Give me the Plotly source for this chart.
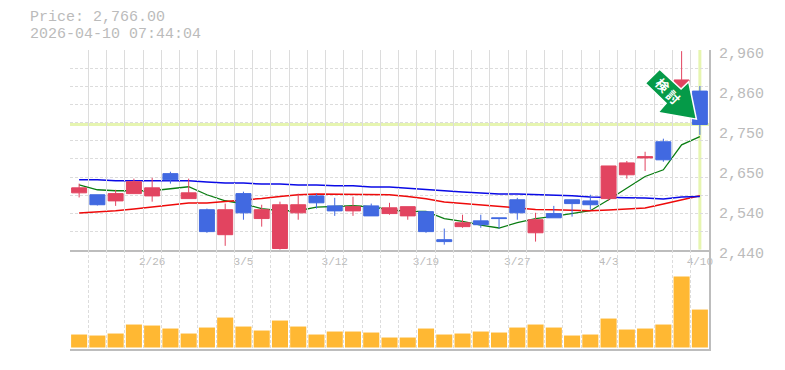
import plotly.graph_objects as go

dates = ["2/19","2/20","2/24","2/25","2/26","2/27","3/2","3/3","3/4","3/5","3/6","3/9","3/10","3/11","3/12","3/13","3/16","3/17","3/18","3/19","3/23","3/24","3/25","3/26","3/27","3/30","3/31","4/1","4/2","4/3","4/6","4/7","4/8","4/9","4/10"]
opens  = [2588,2583,2567,2586,2580,2638,2573,2544,2479,2586,2521,2443,2536,2580,2554,2541,2554,2534,2528,2539,2466,2500,2515,2523,2570,2484,2534,2570,2567,2573,2635,2679,2721,2799,2853]
highs  = [2612,2583,2596,2625,2627,2643,2625,2547,2560,2591,2557,2565,2586,2586,2575,2578,2560,2562,2552,2539,2495,2531,2531,2523,2575,2536,2554,2570,2583,2658,2671,2695,2729,2957,2866]
lows   = [2576,2555,2554,2586,2565,2612,2573,2484,2450,2518,2500,2440,2518,2547,2528,2528,2528,2531,2518,2484,2453,2497,2497,2495,2518,2461,2523,2526,2544,2567,2625,2645,2669,2788,2739]
closes = [2601,2557,2586,2617,2601,2622,2588,2487,2544,2536,2544,2557,2557,2562,2541,2552,2528,2549,2552,2487,2461,2510,2505,2521,2536,2518,2523,2560,2557,2658,2666,2682,2674,2882,2766]
ma_short = [2609,2596,2593.4,2593.4,2593.4,2598.6,2603.8,2583,2567.4,2559.6,2546.6,2541.4,2541.4,2551,2553.6,2554.4,2551.8,2544,2539.6,2539.6,2520.6,2513.6,2504.2,2496.4,2510.2,2520.6,2526.6,2533.6,2541.4,2570,2601.2,2630.6,2648,2713,2734.6]
ma_mid = [2535.4,2538,2541.4,2545.8,2551,2557,2561.4,2561.4,2565.6,2568.2,2573.4,2578.6,2583,2584.8,2584.8,2584.8,2583,2583,2578.6,2572.6,2564,2560.4,2556.2,2551.8,2548.4,2544.8,2544,2542.2,2541.4,2543.2,2545.8,2548.4,2558.8,2570,2580.4]
ma_long = [2622,2622,2619.4,2619.4,2619.4,2619.4,2619.4,2616,2613.4,2613.4,2610.8,2610.8,2608.5,2608.5,2606.4,2606.4,2603,2603,2600.4,2597.8,2593.4,2590,2587.4,2584.8,2584.8,2583,2583,2580.4,2577,2575.2,2575.2,2574.4,2571.8,2577,2578.6]
volumes = [13000,12000,14000,23000,22000,19000,14000,20000,30000,21000,17000,27000,21000,13000,16000,16000,15000,10000,10000,19000,13000,14000,16000,15000,20000,23000,20000,12000,13000,29000,18000,19000,23000,71000,38000]
last_price = 2766
timestamp = "2026-04-10 07:44:04"
tick_idx = [4,9,14,19,24,29,34]
price_ticks = [2960,2856,2752,2648,2544,2440]
price_tick_text = ["2,960","2,860","2,750","2,650","2,540","2,440"]

W,H = 785,370
L,R,T,B = 70,708.6,50,349.5
idx = list(range(len(dates)))
GRID = "#dcdcdc"; AX = "#bdbdbd"; TXT = "#bbbbbb"; MONO = "Liberation Mono"
pw, ph = R-L, B-T
def fx(p): return (p-L)/pw
def fy(p): return (B-p)/ph

fig = go.Figure()
fig.add_trace(go.Scatter(x=idx,y=ma_short,mode="lines",line=dict(color="#0a7d12",width=1.3),xaxis="x",yaxis="y",showlegend=False,hoverinfo="skip"))
fig.add_trace(go.Scatter(x=idx,y=ma_mid,mode="lines",line=dict(color="#ee0a0a",width=1.5),xaxis="x",yaxis="y",showlegend=False,hoverinfo="skip"))
fig.add_trace(go.Scatter(x=idx,y=ma_long,mode="lines",line=dict(color="#0a0ae6",width=1.5),xaxis="x",yaxis="y",showlegend=False,hoverinfo="skip"))
fig.add_trace(go.Candlestick(x=idx,open=opens,high=highs,low=lows,close=closes,xaxis="x",yaxis="y4",whiskerwidth=0,
    increasing=dict(line=dict(color="#e24460",width=1),fillcolor="#e24460"),
    decreasing=dict(line=dict(color="#4169e1",width=1),fillcolor="#4169e1"),showlegend=False))
fig.add_trace(go.Bar(x=idx,y=volumes,xaxis="x2",yaxis="y2",marker=dict(color="#ffb833",line=dict(width=0)),showlegend=False))
# axis carrying the price labels, shifted 3px below the price scale
fig.add_trace(go.Scatter(x=[0],y=[last_price],mode="markers",marker=dict(opacity=0),xaxis="x",yaxis="y3",showlegend=False,hoverinfo="skip"))

grid_x = [i-0.5 for i in idx]
grid_y = [2440+i*520/11 for i in range(12)]
xcommon = dict(range=[-0.5,len(dates)-0.5],showgrid=False,zeroline=False,ticks="",showline=True,linecolor=AX,linewidth=2,
    minor=dict(tickmode="array",tickvals=grid_x,showgrid=True,gridcolor=GRID,griddash="3px,2px",gridwidth=1,ticks=""))
fig.update_layout(
    width=W,height=H,autosize=False,paper_bgcolor="white",plot_bgcolor="rgba(0,0,0,0)",
    margin=dict(l=L,r=W-R,t=T,b=H-B),bargap=0.12,boxgap=0.18,boxgroupgap=0,
    xaxis=dict(xcommon,domain=[0,1],anchor="y",tickmode="array",tickvals=tick_idx,ticktext=[dates[i] for i in tick_idx],
        tickfont=dict(family=MONO,size=11,color=TXT),rangeslider=dict(visible=False),ticklabelstandoff=0),
    xaxis2=dict(xcommon,domain=[0,1],anchor="y2",showticklabels=False),
    yaxis=dict(domain=[fy(250),1],range=[2440,2960],side="right",anchor="x",tickmode="array",tickvals=grid_y,showticklabels=False,
        showgrid=True,gridcolor=GRID,griddash="3px,2px",gridwidth=1,zeroline=False,showline=True,linecolor=AX,linewidth=2,ticks=""),
    yaxis4=dict(overlaying="y",range=[2440,2960],side="right",showticklabels=False,showgrid=False,zeroline=False,ticks=""),
    yaxis2=dict(domain=[0,fy(250)],range=[-1500,98000],side="right",anchor="x2",showticklabels=False,showgrid=False,zeroline=False,
        showline=True,linecolor=AX,linewidth=2,ticks=""),
    yaxis3=dict(domain=[fy(253),fy(53)],range=[2440,2960],side="right",anchor="x",tickmode="array",tickvals=price_ticks,ticktext=price_tick_text,
        tickfont=dict(family=MONO,size=15,color=TXT),showgrid=False,zeroline=False,showline=False,ticks="",ticklabelstandoff=9),
    shapes=[
        dict(type="line",xref="x",yref="y",x0=-0.5,x1=len(dates)-0.5,y0=last_price,y1=last_price,line=dict(color="#e6f5b0",width=3),layer="below"),
        dict(type="line",xref="x",yref="y",x0=idx[-1],x1=idx[-1],y0=2440,y1=2960,line=dict(color="#e6f5b0",width=3),layer="below"),
        dict(type="path",xref="paper",yref="paper",
             path="M"+" L".join(f"{fx(a):.5f},{fy(b):.5f}" for a,b in [(659.3,69.3),(645,83.3),(665.7,103.3),(657.7,112.7),(696,119.3),(688.3,81.7),(680.7,89)])+" Z",
             fillcolor="#059a48",line=dict(color="white",width=1.5),layer="above"),
    ],
    annotations=[
        dict(xref="paper",yref="paper",x=fx(29.5),y=fy(17.5),xanchor="left",yanchor="middle",showarrow=False,borderpad=0,text=f"Price: {last_price:,.2f}",font=dict(family=MONO,size=15,color=TXT)),
        dict(xref="paper",yref="paper",x=fx(29.5),y=fy(34.5),xanchor="left",yanchor="middle",showarrow=False,borderpad=0,text=timestamp,font=dict(family=MONO,size=15,color=TXT)),
        dict(xref="paper",yref="paper",x=fx(661.7),y=fy(85),xanchor="center",yanchor="middle",showarrow=False,text="<b>検</b>",textangle=45,font=dict(family="Noto Sans CJK JP",size=13,color="#ffffff")),
        dict(xref="paper",yref="paper",x=fx(672.7),y=fy(96.7),xanchor="center",yanchor="middle",showarrow=False,text="<b>討</b>",textangle=45,font=dict(family="Noto Sans CJK JP",size=13,color="#ffffff")),
    ],
)
fig.write_html("out.html",config=dict(displayModeBar=False),post_script="document.body.style.margin='0';")
